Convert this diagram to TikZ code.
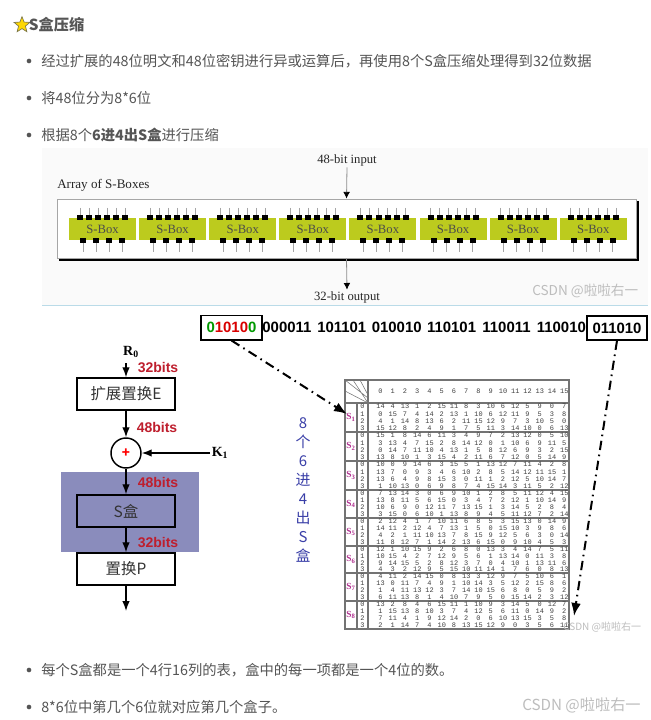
\documentclass[tikz,border=0pt]{standalone}
\usepackage{fontspec}
\setmainfont{Noto Sans CJK SC}
\newfontfamily\timesf{Liberation Serif}
\newfontfamily\arialf{Liberation Sans}
\newfontfamily\monof{Liberation Mono}
\usetikzlibrary{arrows.meta,positioning,calc,shapes.geometric}
\definecolor{ink}{HTML}{555555}
\definecolor{olive}{HTML}{BCCB1E}
\definecolor{lav}{HTML}{8A8CBC}
\definecolor{crim}{HTML}{BE1E2D}
\definecolor{navy}{HTML}{3A3FA8}
\definecolor{pink}{HTML}{B0308F}
\definecolor{mark}{HTML}{BDBDBD}
\begin{document}
\begin{tikzpicture}[x=0.75pt,y=-0.75pt,>=Latex,
  para/.style={anchor=west,inner sep=0pt,text=ink,font=\fontsize{10.73}{12}\selectfont},
  dotm/.style={circle,fill=ink,inner sep=0pt,minimum size=3.5pt},
  box/.style={draw=black,line width=1.1pt,minimum width=73.5pt,minimum height=24pt,inner sep=0pt,text=black!80,font=\fontsize{11.6}{13}\selectfont},
  arr/.style={->,line width=1pt,black},
  bitlab/.style={inner sep=0pt,text=crim,font=\arialf\bfseries\fontsize{10.5}{12}\selectfont},
  sertxt/.style={inner sep=1pt,text=black!85,font=\timesf\fontsize{9.5}{11}\selectfont},
  sbx/.style={fill=olive,minimum width=50.25pt,minimum height=16.5pt,inner sep=0pt,text=black!70,font=\timesf\fontsize{9.5}{11}\selectfont},
  bits/.style={inner sep=0pt,font=\arialf\bfseries\fontsize{11.2}{13}\selectfont},
  wmark/.style={inner sep=0pt,text=mark,font=\fontsize{10.2}{12}\selectfont},
  gline/.style={->,draw=black!45,line width=0.6pt,arrows={-{Latex[black,length=5pt,width=5pt]}}},
  dashdot/.style={->,line width=1.5pt,black,dash pattern=on 7pt off 3.5pt on 1.2pt off 3.5pt},
  num/.style={inner sep=0pt,text=black!75,font=\monof\fontsize{5.2}{5.2}\selectfont},
  tabline/.style={draw=black!55,line width=0.9pt}]
\useasboundingbox (0,0) rectangle (650,720);
\fill[white] (0,0) rectangle (650,720);
% heading and upper bullets
\node[star,star points=5,star point ratio=2.3,fill=yellow!75!orange,draw=black!60!yellow,line width=0.5pt,minimum size=12.5pt,inner sep=0pt] (star) at (22,25) {};
\node[para,font=\bfseries\fontsize{11.4}{12}\selectfont,right=1pt of star] (title) {S盒压缩};
\foreach \yy/\txt [count=\i] in {61/{经过扩展的48位明文和48位密钥进行异或运算后，再使用8个S盒压缩处理得到32位数据},98/{将48位分为8*6位},135/{根据8个\textbf{6进4出S盒}进行压缩},670/{每个S盒都是一个4行16列的表，盒中的每一项都是一个4位的数。},707/{8*6位中第几个6位就对应第几个盒子。}}{
  \node[dotm] (dot\i) at (29,\yy) {};
  \node[para] (line\i) at (41,\yy) {\txt};
}
% S-box array
\fill[black!2] (42,148) rectangle (648,305);
\draw[black!30!cyan!30!white,line width=0.7pt] (42,305) -- (648,305);
\node[sertxt] (inlab) at (347,160) {48-bit input};
\node[sertxt] (outlab) at (347,297) {32-bit output};
\node[sertxt,anchor=west,inner sep=0pt,font=\timesf\fontsize{9.8}{11}\selectfont] (arrlab) at (57,185) {Array of S-Boxes};
\fill[black] (59,201) rectangle (638.5,260.5);
\node[draw=black!35,fill=white,line width=0.6pt,minimum width=434.25pt,minimum height=44.25pt,inner sep=0pt] (sarray) at (346.5,228.5) {};
\draw[gline] (inlab.south) -- (sarray.north);
\draw[gline] (sarray.south) -- (outlab.north);
\foreach \i in {0,...,7}{
  \pgfmathsetmacro{\bx}{102.5+70.1*\i}
  \node[sbx] (sb\i) at (\bx,229) {S-Box};
  \foreach \p in {0,...,5}{
    \pgfmathsetmacro{\px}{\bx-22.5+9.05*\p}
    \draw[black!35,line width=0.5pt] (\px,208) -- (\px,216);
    \fill[black] (\px-3,215.5) rectangle (\px+3,220.5);
  }
  \foreach \p in {0,...,3}{
    \pgfmathsetmacro{\px}{\bx-19.5+13*\p}
    \draw[black!35,line width=0.5pt] (\px,243) -- (\px,252);
    \fill[black] (\px-3,238) rectangle (\px+3,243);
  }
}
\node[wmark,anchor=west] (wmarka) at (532,291) {CSDN @啦啦右一};
% bit string
\node[bits,draw=black,line width=1pt,minimum width=45.75pt,minimum height=18.5pt] (first) at (231.5,327.5) {\textcolor{green!60!black}{0}\textcolor{red!85!black}{1010}\textcolor{green!60!black}{0}};
\node[bits,draw=black,line width=1pt,minimum width=45pt,minimum height=18pt] (last) at (617,328) {011010};
\foreach \bb [count=\i] in {000011,101101,010010,110101,110011,110010}{
  \pgfmathsetmacro{\bx}{232+54.9*\i}
  \node[bits] (group\i) at (\bx,327.5) {\bb};
}
% round function
\fill[lav] (61,472) rectangle (199,552);
\node[inner sep=1pt,font=\timesf\bfseries\fontsize{10.5}{12}\selectfont] (rzero) at (131,352) {R\textsubscript{0}};
\node[box,fill=white] (expand) at (126,394) {扩展置换E};
\node[circle,draw=black,line width=1.1pt,fill=white,minimum size=22.5pt,inner sep=0pt,text=red,font=\bfseries] (xor) at (126,453) {+};
\node[box] (sbox) at (126,511) {S盒};
\node[box,fill=white] (perm) at (126,569) {置换P};
\node[inner sep=1pt,font=\timesf\bfseries\fontsize{10.5}{12}\selectfont] (kone) at (220,453) {K\textsubscript{1}};
\coordinate (out) at (126,611);
\coordinate (rin) at (126,363);
\draw[arr] (rin)--(expand);
\draw[arr] (expand)--(xor);
\draw[arr] (kone)--(xor);
\draw[arr] (xor)--(sbox);
\draw[arr] (sbox)--(perm);
\draw[arr] (perm)--(out);
\node[bitlab] (labela) at (158,368) {32bits};
\node[bitlab] (labelb) at (157,427) {48bits};
\node[bitlab] (labelc) at (158,482) {48bits};
\node[bitlab] (labeld) at (158,543) {32bits};
% vertical label
\node[align=center,inner sep=0pt,text=navy,font=\fontsize{11.2}{14.25}\selectfont] (vlab) at (303,490) {8\\个\\6\\进\\4\\出\\S\\盒};
% S-box table
\draw[tabline] (345,380) rectangle (569,629);
\draw[tabline] (357,403) -- (357,629);
\draw[tabline] (368,380) -- (368,629);
\draw[tabline] (345,403) -- (569,403);
\draw[black!55,line width=0.4pt] (345,380) -- (368,398) (353,380) -- (368,403) (360,380) -- (368,395) (345,391) -- (368,403);
\foreach \c in {0,...,15}{
  \pgfmathsetmacro{\cx}{380.5+12.25*\c}
  \node[num] (col\c) at (\cx,391) {\c};
}
\foreach \top/\bot/\rows [count=\b] in {
 403/432/{{14,4,13,1,2,15,11,8,3,10,6,12,5,9,0,7},{0,15,7,4,14,2,13,1,10,6,12,11,9,5,3,8},{4,1,14,8,13,6,2,11,15,12,9,7,3,10,5,0},{15,12,8,2,4,9,1,7,5,11,3,14,10,0,6,13}},
 432/461/{{15,1,8,14,6,11,3,4,9,7,2,13,12,0,5,10},{3,13,4,7,15,2,8,14,12,0,1,10,6,9,11,5},{0,14,7,11,10,4,13,1,5,8,12,6,9,3,2,15},{13,8,10,1,3,15,4,2,11,6,7,12,0,5,14,9}},
 461/490/{{10,0,9,14,6,3,15,5,1,13,12,7,11,4,2,8},{13,7,0,9,3,4,6,10,2,8,5,14,12,11,15,1},{13,6,4,9,8,15,3,0,11,1,2,12,5,10,14,7},{1,10,13,0,6,9,8,7,4,15,14,3,11,5,2,12}},
 490/518/{{7,13,14,3,0,6,9,10,1,2,8,5,11,12,4,15},{13,8,11,5,6,15,0,3,4,7,2,12,1,10,14,9},{10,6,9,0,12,11,7,13,15,1,3,14,5,2,8,4},{3,15,0,6,10,1,13,8,9,4,5,11,12,7,2,14}},
 518/546/{{2,12,4,1,7,10,11,6,8,5,3,15,13,0,14,9},{14,11,2,12,4,7,13,1,5,0,15,10,3,9,8,6},{4,2,1,11,10,13,7,8,15,9,12,5,6,3,0,14},{11,8,12,7,1,14,2,13,6,15,0,9,10,4,5,3}},
 546/573/{{12,1,10,15,9,2,6,8,0,13,3,4,14,7,5,11},{10,15,4,2,7,12,9,5,6,1,13,14,0,11,3,8},{9,14,15,5,2,8,12,3,7,0,4,10,1,13,11,6},{4,3,2,12,9,5,15,10,11,14,1,7,6,0,8,13}},
 573/601/{{4,11,2,14,15,0,8,13,3,12,9,7,5,10,6,1},{13,0,11,7,4,9,1,10,14,3,5,12,2,15,8,6},{1,4,11,13,12,3,7,14,10,15,6,8,0,5,9,2},{6,11,13,8,1,4,10,7,9,5,0,15,14,2,3,12}},
 601/629/{{13,2,8,4,6,15,11,1,10,9,3,14,5,0,12,7},{1,15,13,8,10,3,7,4,12,5,6,11,0,14,9,2},{7,11,4,1,9,12,14,2,0,6,10,13,15,3,5,8},{2,1,14,7,4,10,8,13,15,12,9,0,3,5,6,11}}}{
  \draw[tabline] (345,\bot) -- (569,\bot);
  \pgfmathsetmacro{\sy}{(\top+\bot)/2}
  \node[inner sep=0pt,text=pink,font=\timesf\bfseries\fontsize{7}{8}\selectfont] (sname\b) at (351,\sy) {S\textsubscript{\b}};
  \foreach \vals [count=\r from 0] in \rows {
    \pgfmathsetmacro{\ry}{\top+(\bot-\top)*(\r+0.5)/4}
    \node[num] (rowlab\b-\r) at (362.5,\ry) {\r};
    \foreach \v [count=\c from 0] in \vals {
      \pgfmathsetmacro{\cx}{380.5+12.25*\c}
      \node[num] (cell\b-\r-\c) at (\cx,\ry) {\v};
    }
  }
}
\coordinate (sone) at (347,414);
\coordinate (seight) at (574,616);
\draw[dashdot] (first.south) -- (sone);
\draw[dashdot] (last.south) -- (seight);
\node[wmark,anchor=west,font=\fontsize{7.5}{9}\selectfont] (wmarkb) at (563,627) {CSDN @啦啦右一};
\node[wmark,anchor=west,font=\fontsize{11.4}{13}\selectfont] (wmarkc) at (522,705) {CSDN @啦啦右一};
\end{tikzpicture}
\end{document}
